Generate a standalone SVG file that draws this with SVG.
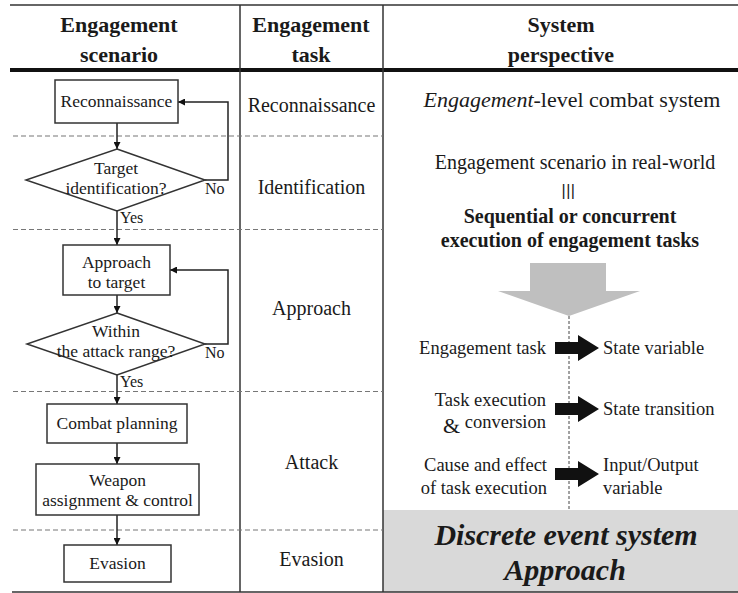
<svg xmlns="http://www.w3.org/2000/svg" width="738" height="593" viewBox="0 0 738 593">
<style>
text{font-family:"Liberation Serif","Times New Roman",serif;fill:#1a1a1a}
.hd{font-size:22px;font-weight:bold;text-anchor:middle}
.bx{fill:#fff;stroke:#333;stroke-width:1.5}
.n{font-size:17.5px;text-anchor:middle}
.t{font-size:20px;text-anchor:middle}
.s{font-size:18.5px}
.lb{font-size:16px}
.rule{stroke:#333;stroke-width:1.5;fill:none}
.dash{stroke:#777;stroke-width:1.2;stroke-dasharray:5 3;fill:none}
.con{stroke:#222;stroke-width:1.5;fill:none}
</style>
<defs>
<marker id="ah" viewBox="0 0 10 10" refX="10" refY="5" markerWidth="7" markerHeight="7" markerUnits="userSpaceOnUse" orient="auto"><path d="M0,0 L10,5 L0,10 Z" fill="#111"/></marker>
<path id="blk" d="M0,-6 L23,-6 L23,-13 L44,0 L23,13 L23,6 L0,6 Z" fill="#111"/>
</defs>
<rect width="738" height="593" fill="#fff"/>
<g id="table">
<rect x="383" y="510" width="355" height="82" fill="#d9d9d9"/>
<line class="rule" x1="10" y1="5" x2="738" y2="5" stroke-width="2"/>
<line x1="10" y1="70" x2="738" y2="70" stroke="#111" stroke-width="4"/>
<line class="rule" x1="12" y1="592" x2="738" y2="592"/>
<line class="rule" x1="240" y1="5" x2="240" y2="592"/>
<line class="rule" x1="383" y1="5" x2="383" y2="592"/>
<line class="dash" x1="13" y1="136" x2="383" y2="136"/>
<line class="dash" x1="13" y1="229.5" x2="383" y2="229.5"/>
<line class="dash" x1="13" y1="391.5" x2="383" y2="391.5"/>
<line class="dash" x1="13" y1="530" x2="383" y2="530"/>
<text class="hd" x="119" y="32">Engagement</text>
<text class="hd" x="119" y="62">scenario</text>
<text class="hd" x="311" y="32">Engagement</text>
<text class="hd" x="311" y="62">task</text>
<text class="hd" x="561" y="32">System</text>
<text class="hd" x="561" y="62">perspective</text>
</g>
<g id="connectors">
<line class="con" x1="117" y1="123" x2="117" y2="149" marker-end="url(#ah)"/>
<polyline class="con" points="205,180 228,180 228,102 178,102" marker-end="url(#ah)"/>
<line class="con" x1="117" y1="211" x2="117" y2="245" marker-end="url(#ah)"/>
<line class="con" x1="117" y1="295" x2="117" y2="313" marker-end="url(#ah)"/>
<polyline class="con" points="205,344 228,344 228,270 170,270" marker-end="url(#ah)"/>
<line class="con" x1="117" y1="375" x2="117" y2="404" marker-end="url(#ah)"/>
<line class="con" x1="117" y1="443" x2="117" y2="464" marker-end="url(#ah)"/>
<line class="con" x1="117" y1="515" x2="117" y2="545" marker-end="url(#ah)"/>
<text class="lb" x="205" y="194">No</text>
<text class="lb" x="120" y="223">Yes</text>
<text class="lb" x="205" y="358">No</text>
<text class="lb" x="120" y="387">Yes</text>
</g>
<g id="n-recon"><rect class="bx" x="55" y="80" width="123" height="43"/><text class="n" x="116.5" y="107">Reconnaissance</text></g>
<g id="n-target"><polygon class="bx" points="117,149 205,180 117,211 26,180"/><text class="n" x="116" y="174">Target</text><text class="n" x="116" y="194">identification?</text></g>
<g id="n-approach"><rect class="bx" x="63" y="245" width="107" height="50"/><text class="n" x="116.5" y="268">Approach</text><text class="n" x="116.5" y="288">to target</text></g>
<g id="n-range"><polygon class="bx" points="117,313 205,344 117,375 27,344"/><text class="n" x="116" y="337">Within</text><text class="n" x="116" y="357">the attack range?</text></g>
<g id="n-combat"><rect class="bx" x="47" y="404" width="140" height="39"/><text class="n" x="117" y="429">Combat planning</text></g>
<g id="n-weapon"><rect class="bx" x="36" y="464" width="163" height="51"/><text class="n" x="117.5" y="486">Weapon</text><text class="n" x="117.5" y="506">assignment &amp; control</text></g>
<g id="n-evasion"><rect class="bx" x="64" y="545" width="107" height="37"/><text class="n" x="117.5" y="569">Evasion</text></g>
<g id="tasks">
<text class="t" x="311.5" y="112">Reconnaissance</text>
<text class="t" x="311.5" y="194">Identification</text>
<text class="t" x="311.5" y="315">Approach</text>
<text class="t" x="311.5" y="469">Attack</text>
<text class="t" x="311.5" y="566">Evasion</text>
</g>
<g id="perspective">
<text x="572" y="107" font-size="22" text-anchor="middle"><tspan font-style="italic">Engagement</tspan>-level combat system</text>
<text x="575" y="169" font-size="20" text-anchor="middle">Engagement scenario in real-world</text>
<text x="568.5" y="196" font-size="16" letter-spacing="0.5" text-anchor="middle" style="font-family:'Liberation Sans',sans-serif">|||</text>
<text x="570" y="223" font-size="20" font-weight="bold" text-anchor="middle">Sequential or concurrent</text>
<text x="570" y="247" font-size="20" font-weight="bold" text-anchor="middle">execution of engagement tasks</text>
<polygon points="530,263 606,263 606,291 640,291 569,316 498,291 530,291" fill="#bfbfbf"/>
<line x1="569" y1="316" x2="569" y2="510" stroke="#444" stroke-width="1" stroke-dasharray="3 2"/>
<use href="#blk" x="555" y="348"/>
<use href="#blk" x="555" y="409"/>
<use href="#blk" x="555" y="474"/>
<text class="s" x="546" y="354" text-anchor="end">Engagement task</text>
<text class="s" x="603" y="354">State variable</text>
<text class="s" x="546" y="406" text-anchor="end">Task execution</text>
<text x="443" y="433" font-size="22">&amp;</text>
<text class="s" x="546" y="428" text-anchor="end">conversion</text>
<text class="s" x="603" y="415">State transition</text>
<text class="s" x="547" y="471" text-anchor="end">Cause and effect</text>
<text class="s" x="547" y="494" text-anchor="end">of task execution</text>
<text class="s" x="603" y="471">Input/Output</text>
<text class="s" x="603" y="494">variable</text>
</g>
<g id="n-des">
<text x="566" y="545" font-size="30" font-weight="bold" font-style="italic" text-anchor="middle">Discrete event system</text>
<text x="565" y="580" font-size="30" font-weight="bold" font-style="italic" text-anchor="middle">Approach</text>
</g>
</svg>
